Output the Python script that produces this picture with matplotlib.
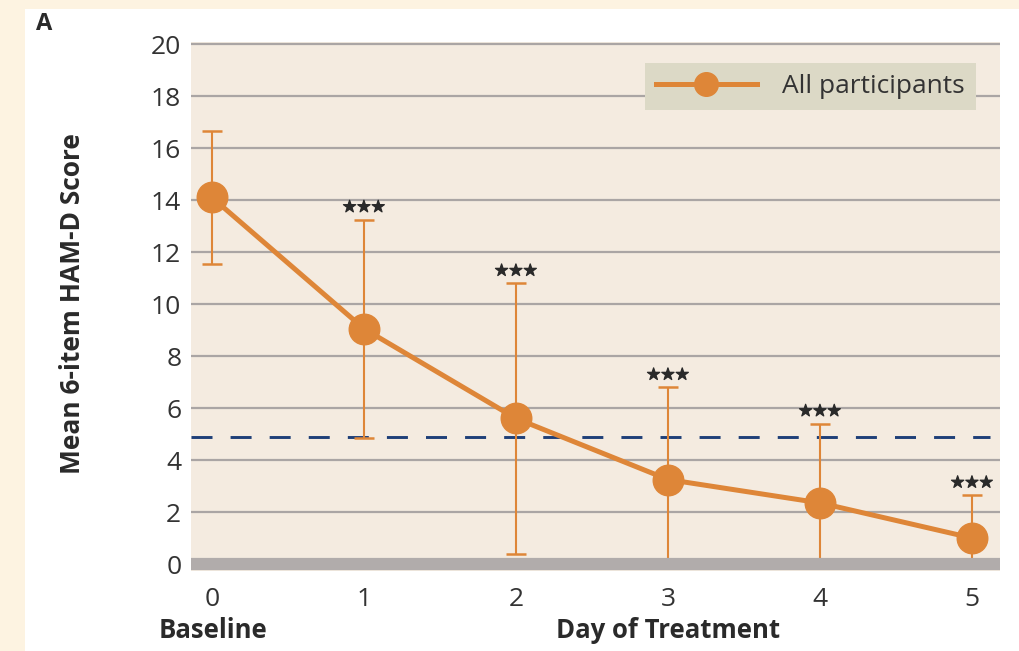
import matplotlib
matplotlib.use("Agg")
import matplotlib.pyplot as plt
import matplotlib.patheffects as pe
from matplotlib.patches import Rectangle
from matplotlib.lines import Line2D

plt.rcParams['font.family'] = ['Open Sans', 'DejaVu Sans']

days = [0, 1, 2, 3, 4, 5]
day_labels = ['0', '1', '2', '3', '4', '5']
mean_score = [14.1, 9.05, 5.6, 3.25, 2.35, 1.0]
sd_score = [2.55, 4.2, 5.2, 3.55, 3.05, 1.65]
significant = [False, True, True, True, True, True]
threshold = 4.88
yticks = [0, 2, 4, 6, 8, 10, 12, 14, 16, 18, 20]

orange = '#de8638'
dark = '#2a2a2a'
W, H = 1019, 651
fig = plt.figure(figsize=(W / 100, H / 100), dpi=100)
fig.patch.set_facecolor('#fdf3e1')
fig.patches.append(Rectangle((25 / W, 0), 1 - 25 / W, 1 - 9 / H, transform=fig.transFigure,
                             facecolor='white', edgecolor='none', zorder=-10))

ax = fig.add_axes([191 / W, (H - 570.5) / H, (1000 - 191) / W, (570.5 - 41.5) / H])
ax.set_zorder(1)
ax.set_facecolor('#f4ebe0')
ax.set_xlim(-0.138, 5.184)
ax.set_ylim(-0.25, 20.1)
for s in ax.spines.values():
    s.set_visible(False)

for yv in yticks[1:]:
    ax.axhline(yv, color='#aaa5a4', lw=1.6, zorder=1)
ax.axhline(0, color='#b1acab', lw=8.8, zorder=6)

ax.axhline(threshold, color='#1e3f78', lw=2.1, dashes=(7.2, 6.2), zorder=2,
           xmin=0.0, xmax=0.988)

lower = [min(s, m) for m, s in zip(mean_score, sd_score)]
ax.errorbar(days, mean_score, yerr=[lower, sd_score], fmt='none', ecolor=orange,
            elinewidth=1.5, capsize=7, capthick=1.8, zorder=3)
ax.plot(days, mean_score, color=orange, lw=3.6, marker='o', markersize=22, zorder=4)

for d, m, s, sig in zip(days, mean_score, sd_score, significant):
    if sig:
        ax.text(d, m + s + 0.3, '★★★', ha='center', va='baseline', fontsize=11.5,
                family='DejaVu Sans', color=dark, zorder=5,
                path_effects=[pe.withStroke(linewidth=0.9, foreground=dark)])

ax.set_yticks(yticks)
ax.set_yticklabels([str(v) for v in yticks], fontsize=19, color='#333333')
ax.set_xticks(days)
ax.set_xticklabels(day_labels, fontsize=19, color='#333333')
ax.tick_params(axis='y', length=0, pad=7)
ax.tick_params(axis='x', length=0, pad=12)

fig.text(73 / W, 1 - 304 / H, 'Mean 6-item HAM-D Score', ha='center', va='center',
         rotation=90, fontsize=19, fontweight='bold', color=dark)
fig.text(213 / W, 1 - 631 / H, 'Baseline', ha='center', va='center', fontsize=18.5,
         fontweight='bold', color=dark)
fig.text(668 / W, 1 - 631 / H, 'Day of Treatment', ha='center', va='center', fontsize=18.5,
         fontweight='bold', color=dark)
fig.text(36 / W, 1 - 24 / H, 'A', ha='left', va='center', fontsize=17,
         fontweight='bold', color=dark)

handle = Line2D([], [], color=orange, lw=3.6, marker='o', markersize=17)
leg = ax.legend([handle], ['All participants'], loc='upper right',
                bbox_to_anchor=(976 / W, 1 - 63 / H), bbox_transform=fig.transFigure,
                fontsize=19, frameon=True, fancybox=False, framealpha=1,
                facecolor='#dcd9c6', edgecolor='none', handlelength=3.85,
                borderpad=0.42, handletextpad=0.95, borderaxespad=0)
for t in leg.get_texts():
    t.set_color('#333333')
leg.set_zorder(7)

fig.savefig('out.png', dpi=100)
